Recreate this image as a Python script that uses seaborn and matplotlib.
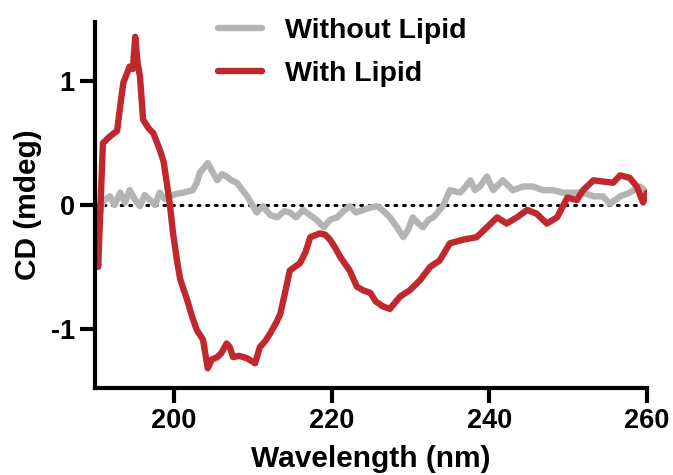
import pandas as pd
import seaborn as sns
import matplotlib.pyplot as plt

# Wavelength (nm) / CD (mdeg)
WL_WITH = [190.0, 190.4, 190.7, 191.0, 191.8, 192.8, 193.3, 193.6, 194.4, 194.8,
           195.1, 195.4, 195.7, 196.1, 196.8, 197.4, 198.2, 198.7, 199.1, 199.5,
           199.9, 200.4, 200.8, 201.7, 202.3, 202.9, 203.7, 204.3, 204.8, 205.5,
           206.0, 206.7, 207.1, 207.5, 208.3, 209.3, 210.3, 210.9, 211.6, 212.2,
           213.0, 213.5, 214.2, 214.7, 216.0, 216.7, 217.3, 218.5, 219.2, 219.8,
           220.5, 221.1, 222.3, 223.2, 224.0, 224.9, 225.6, 226.5, 227.4, 228.7,
           229.9, 231.2, 232.5, 233.7, 235.0, 236.7, 238.4, 239.7, 241.0, 242.2,
           243.5, 244.8, 246.0, 247.3, 248.6, 249.9, 251.1, 251.9, 253.2, 254.4,
           255.7, 256.6, 257.8, 258.7, 259.5, 260.0]
CD_WITH = [-0.05, -0.50, 0.00, 0.50, 0.55, 0.60, 0.85, 0.99, 1.12, 1.10,
           1.36, 1.15, 1.04, 0.69, 0.62, 0.58, 0.45, 0.35, 0.18, 0.00,
           -0.23, -0.45, -0.60, -0.77, -0.90, -1.01, -1.09, -1.32, -1.25, -1.23,
           -1.20, -1.12, -1.15, -1.23, -1.22, -1.24, -1.28, -1.15, -1.10, -1.04,
           -0.95, -0.88, -0.68, -0.53, -0.47, -0.38, -0.26, -0.23, -0.24, -0.28,
           -0.35, -0.42, -0.53, -0.66, -0.69, -0.71, -0.78, -0.82, -0.84, -0.74,
           -0.69, -0.61, -0.50, -0.45, -0.31, -0.28, -0.26, -0.18, -0.10, -0.15,
           -0.10, -0.04, -0.07, -0.15, -0.10, 0.06, 0.04, 0.12, 0.20, 0.19,
           0.18, 0.24, 0.22, 0.15, 0.02, 0.10]

WL_WITHOUT = [190.0, 190.5, 191.0, 191.9, 192.5, 193.2, 193.8, 194.4, 195.0, 195.7,
              196.3, 197.0, 197.6, 198.2, 198.8, 199.5, 200.3, 201.2, 202.4, 202.9,
              203.3, 204.3, 204.8, 205.5, 206.1, 206.7, 207.3, 208.0, 208.7, 209.3,
              210.5, 211.3, 212.2, 213.1, 214.0, 214.7, 215.5, 216.4, 217.2, 218.1,
              219.0, 219.8, 220.7, 221.5, 222.3, 223.1, 224.0, 225.0, 225.8, 226.6,
              227.4, 228.3, 229.1, 229.7, 230.3, 231.0, 231.6, 232.3, 232.9, 234.1,
              235.0, 236.3, 237.0, 237.6, 238.2, 238.8, 239.7, 240.5, 241.7, 243.0,
              244.3, 245.5, 246.8, 248.1, 249.3, 250.6, 251.9, 253.2, 254.4, 255.3,
              256.6, 257.8, 259.1, 260.0]
CD_WITHOUT = [-0.18, -0.10, 0.03, 0.07, 0.00, 0.10, 0.02, 0.12, 0.05, -0.01,
              0.08, 0.04, 0.00, 0.10, 0.05, 0.07, 0.09, 0.10, 0.12, 0.18,
              0.26, 0.34, 0.28, 0.20, 0.25, 0.23, 0.20, 0.18, 0.12, 0.07,
              -0.06, -0.01, -0.08, -0.10, -0.05, -0.06, -0.10, -0.04, -0.08, -0.12,
              -0.18, -0.12, -0.10, -0.05, -0.01, -0.06, -0.04, -0.02, -0.01, -0.05,
              -0.10, -0.18, -0.26, -0.20, -0.10, -0.15, -0.18, -0.12, -0.10, -0.01,
              0.12, 0.10, 0.15, 0.20, 0.12, 0.15, 0.23, 0.12, 0.20, 0.12,
              0.15, 0.15, 0.12, 0.12, 0.10, 0.10, 0.10, 0.07, 0.07, 0.01,
              0.07, 0.10, 0.15, 0.10]

LABELS = ["Without Lipid", "With Lipid"]
COLORS = ["#b4b4b4", "#c0282d"]
X_TICKS = [200, 220, 240, 260]
Y_TICKS = [-1, 0, 1]

sns.set_style("ticks")
plt.rcParams["font.family"] = ["Liberation Sans", "DejaVu Sans"]
plt.rcParams["font.weight"] = "bold"
plt.rcParams["axes.unicode_minus"] = False
for key in ["text.color", "axes.labelcolor", "xtick.color", "ytick.color", "axes.edgecolor"]:
    plt.rcParams[key] = "black"

df = pd.concat([
    pd.DataFrame({"wl": WL_WITHOUT, "cd": CD_WITHOUT, "series": LABELS[0]}),
    pd.DataFrame({"wl": WL_WITH, "cd": CD_WITH, "series": LABELS[1]}),
])

fig = plt.figure(figsize=(6.73, 4.75), dpi=100)
ax = fig.add_axes([95 / 673, 1 - 388 / 475, 552 / 673, 366 / 475])

# dotted zero line
ax.plot([190, 259], [0, 0], color="black", lw=2.2,
        linestyle=(0, (0.6, 2.2)), dash_capstyle="round", zorder=1)

sns.lineplot(data=df, x="wl", y="cd", hue="series", hue_order=LABELS,
             palette=COLORS, linewidth=4.6, ax=ax, legend=False, zorder=2,
             estimator=None, sort=True)

ax.set_xlim(190, 260)
ax.set_ylim(-1.48, 1.48)
ax.set_xticks(X_TICKS)
ax.set_yticks(Y_TICKS)
ax.tick_params(labelsize=19.5, width=3, length=11, direction="out")
for lab in ax.get_xticklabels() + ax.get_yticklabels():
    lab.set_fontweight("bold")
ax.set_xlabel("Wavelength (nm)", fontsize=21.5, fontweight="bold", labelpad=8)
ax.set_ylabel("CD (mdeg)", fontsize=21.5, fontweight="bold", labelpad=6)

sns.despine(ax=ax)
for side in ["left", "bottom"]:
    ax.spines[side].set_linewidth(3)

handles = [plt.Line2D([], [], color=c, lw=4.6, solid_capstyle="round") for c in COLORS]
fig.legend(handles, LABELS, loc="upper left", bbox_to_anchor=(218 / 673, 1 - 18 / 475),
           frameon=False, handlelength=1.55, handletextpad=0.8,
           labelspacing=0.6, borderpad=0, borderaxespad=0,
           prop={"weight": "bold", "size": 20.5})

fig.savefig("out.png", dpi=100)
